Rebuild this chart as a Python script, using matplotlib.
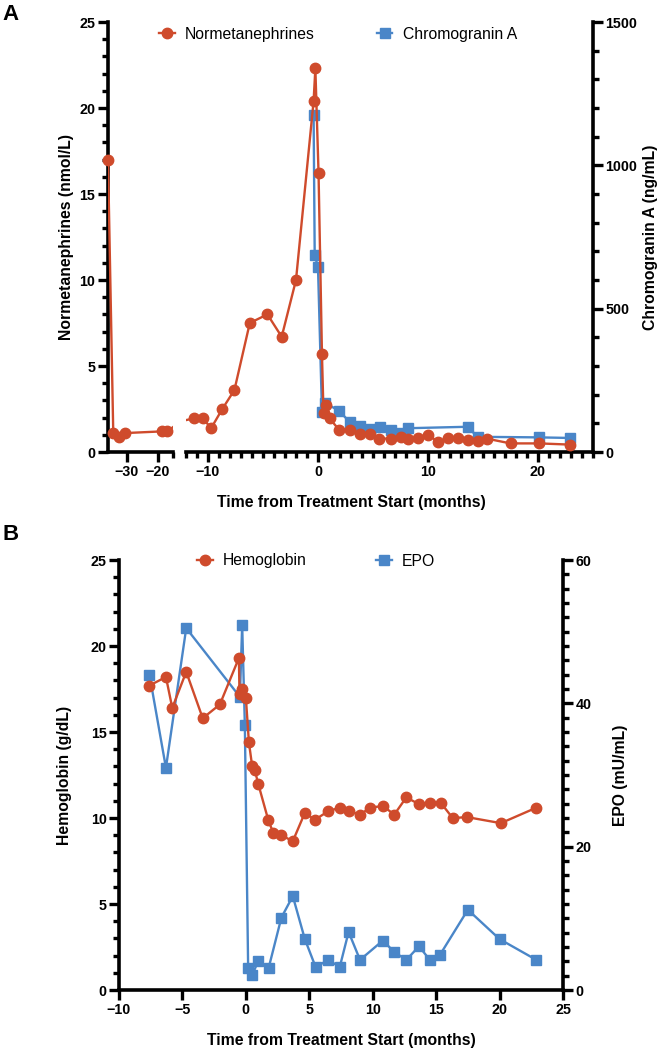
import numpy as np
import matplotlib.pyplot as plt
from matplotlib.ticker import MultipleLocator, FixedLocator

plt.rcParams['font.family'] = ['Liberation Sans', 'DejaVu Sans']
plt.rcParams['font.weight'] = 'bold'

RED = "#cf4b2c"
BLUE = "#4a86c8"

# panel A: normetanephrines (nmol/L) and chromogranin A (ng/mL)
nmn_months = [-36, -34.3, -32.4, -30.5, -18.4, -16.8,
              -11.3, -10.5, -9.7, -8.7, -7.6, -6.2, -4.6, -3.3, -2.0,
              -0.4, -0.24, 0.05, 0.36, 0.5, 0.75, 1.06, 1.9, 2.9, 3.8, 4.7,
              5.5, 6.6, 7.5, 8.2, 9.1, 10.0, 10.9, 11.8, 12.7, 13.6, 14.5,
              15.4, 17.5, 20.1, 22.9]
nmn_values = [17.0, 1.1, 0.9, 1.1, 1.2, 1.2,
              1.95, 1.95, 1.4, 2.5, 3.6, 7.5, 8.0, 6.7, 10.0,
              20.4, 22.3, 16.2, 5.7, 2.25, 2.75, 1.95, 1.3, 1.3, 1.05, 1.05,
              0.78, 0.78, 0.87, 0.76, 0.82, 1.0, 0.6, 0.8, 0.83, 0.7, 0.64,
              0.77, 0.5, 0.5, 0.43]

cga_months = [-0.4, -0.3, 0.0, 0.36, 0.66, 1.9, 2.9, 3.85, 4.7, 5.6, 6.6,
              7.4, 8.2, 13.6, 14.5, 20.1, 22.9]
cga_values = [1177, 688, 644, 141, 171, 144, 104, 90, 80, 88, 77,
              66, 83, 88, 53, 51, 49]

# panel B: hemoglobin (g/dL) and EPO (mU/mL)
hb_months = [-7.6, -6.3, -5.8, -4.7, -3.4, -2.05, -0.55, -0.5, -0.32, 0.0,
             0.24, 0.5, 0.7, 0.97, 1.76, 2.15, 2.8, 3.7, 4.65, 5.45, 6.5,
             7.4, 8.1, 9.0, 9.8, 10.8, 11.7, 12.65, 13.65, 14.5, 15.35,
             16.3, 17.45, 20.1, 22.9]
hb_values = [17.7, 18.2, 16.4, 18.5, 15.8, 16.6, 19.3, 17.2, 17.5, 17.0,
             14.4, 13.0, 12.8, 12.0, 9.9, 9.15, 9.0, 8.65, 10.3, 9.9, 10.4,
             10.6, 10.4, 10.2, 10.6, 10.7, 10.2, 11.2, 10.8, 10.9, 10.9,
             10.0, 10.05, 9.7, 10.6]

epo_months = [-7.6, -6.3, -4.7, -0.47, -0.29, -0.08, 0.18, 0.5, 0.97, 1.8,
              2.8, 3.7, 4.65, 5.5, 6.5, 7.4, 8.1, 9.0, 10.8, 11.7, 12.65,
              13.65, 14.5, 15.3, 17.5, 20.0, 22.9]
epo_values = [44.0, 31.0, 50.5, 40.9, 50.9, 37.0, 3.1, 2.1, 4.0, 3.1,
              10.1, 13.1, 7.1, 3.2, 4.2, 3.2, 8.1, 4.2, 6.9, 5.3, 4.2,
              6.1, 4.2, 4.9, 11.2, 7.1, 4.2]

W, H = 660, 1050
LABEL_SIZE = 11.3
fig = plt.figure(figsize=(W / 100, H / 100), dpi=100)


def box(l, t, r, b):
    return [l / W, 1 - b / H, (r - l) / W, (b - t) / H]


def style(ax):
    for sp in ax.spines.values():
        sp.set_linewidth(2.6)
    ax.tick_params(which='major', length=7, width=2.4, labelsize=10.3, pad=2)
    ax.tick_params(which='minor', length=4.5, width=2.4)


def series(ax, x, y, color, marker, ms, lo, hi, z=2):
    x = np.asarray(x, float)
    y = np.asarray(y, float)
    line, = ax.plot(x, y, color=color, lw=1.7, zorder=z)
    keep = (x >= lo) & (x <= hi)
    ax.plot(x[keep], y[keep], ls='none', marker=marker, ms=ms, color=color,
            clip_on=False, zorder=z + 0.5)
    return line


def legend(handles, labels, x0, y0, colsp):
    fig.legend(handles, labels, loc='center left',
               bbox_to_anchor=(x0 / W, 1 - y0 / H), ncol=2, frameon=False,
               prop={'weight': 'normal', 'size': LABEL_SIZE},
               handlelength=1.0, handletextpad=0.65, columnspacing=colsp,
               borderpad=0, borderaxespad=0)


def handle(color, marker, ms):
    return plt.Line2D([], [], color=color, marker=marker, ms=ms, lw=1.7)


# ---- panel A, left segment of broken axis
axL = fig.add_axes(box(108, 22, 173, 452))
style(axL)
axL.set_xlim(-36, -15)
axL.set_ylim(0, 25)
axL.spines[['top', 'right']].set_visible(False)
axL.xaxis.set_major_locator(FixedLocator([-30, -20]))
axL.xaxis.set_minor_locator(FixedLocator([-15]))
axL.yaxis.set_major_locator(MultipleLocator(5))
axL.yaxis.set_minor_locator(MultipleLocator(1))
series(axL, nmn_months, nmn_values, RED, 'o', 7.5, -36, -15, z=3)

# ---- panel A, right segment
axR = fig.add_axes(box(186, 22, 593, 452))
style(axR)
axR.set_xlim(-12, 25)
axR.set_ylim(0, 25)
axR.xaxis.set_major_locator(FixedLocator([-10, 0, 10, 20]))
axR.xaxis.set_minor_locator(MultipleLocator(1))

twA = axR.twinx()
style(twA)
twA.set_ylim(0, 1500)
twA.spines[['top', 'left', 'bottom']].set_visible(False)
twA.yaxis.set_major_locator(MultipleLocator(500))
twA.yaxis.set_minor_locator(MultipleLocator(100))
series(twA, cga_months, cga_values, BLUE, 's', 7, -12, 25)

axR.spines[['top', 'left', 'right']].set_visible(False)
axR.tick_params(axis='y', which='both', left=False, right=False,
                labelleft=False, labelright=False)
axR.set_zorder(twA.get_zorder() + 1)
axR.patch.set_visible(False)
series(axR, nmn_months, nmn_values, RED, 'o', 7.5, -12, 25, z=3)

legend([handle(RED, 'o', 7.5), handle(BLUE, 's', 7)],
       ["Normetanephrines", "Chromogranin A"], 159, 34, 3.95)

fig.text(66 / W, 1 - 237 / H, "Normetanephrines (nmol/L)", rotation=90,
         ha='center', va='center', fontsize=LABEL_SIZE)
fig.text(651 / W, 1 - 237 / H, "Chromogranin A (ng/mL)", rotation=90,
         ha='center', va='center', fontsize=LABEL_SIZE)
fig.text(351 / W, 1 - 503 / H, "Time from Treatment Start (months)",
         ha='center', va='center', fontsize=LABEL_SIZE)
fig.text(2 / W, 1 - 14 / H, "A", ha='left', va='center', fontsize=16)

# ---- panel B
axB = fig.add_axes(box(119, 560, 563, 990))
style(axB)
axB.set_xlim(-10, 25)
axB.set_ylim(0, 25)
axB.xaxis.set_major_locator(MultipleLocator(5))
axB.yaxis.set_major_locator(MultipleLocator(5))
axB.yaxis.set_minor_locator(MultipleLocator(1))

twB = axB.twinx()
style(twB)
twB.set_ylim(0, 60)
twB.spines[['top', 'left', 'bottom']].set_visible(False)
twB.yaxis.set_major_locator(MultipleLocator(20))
twB.yaxis.set_minor_locator(MultipleLocator(2))
series(twB, epo_months, epo_values, BLUE, 's', 7, -10, 25)

axB.spines[['top', 'right']].set_visible(False)
axB.set_zorder(twB.get_zorder() + 1)
axB.patch.set_visible(False)
series(axB, hb_months, hb_values, RED, 'o', 7.5, -10, 25, z=3)

legend([handle(RED, 'o', 7.5), handle(BLUE, 's', 7)],
       ["Hemoglobin", "EPO"], 197, 561, 4.4)

fig.text(65 / W, 1 - 775 / H, "Hemoglobin (g/dL)", rotation=90,
         ha='center', va='center', fontsize=LABEL_SIZE)
fig.text(621 / W, 1 - 775 / H, "EPO (mU/mL)", rotation=90,
         ha='center', va='center', fontsize=LABEL_SIZE)
fig.text(341 / W, 1 - 1040 / H, "Time from Treatment Start (months)",
         ha='center', va='center', fontsize=LABEL_SIZE)
fig.text(2 / W, 1 - 534 / H, "B", ha='left', va='center', fontsize=16)

fig.savefig("out.png", dpi=100)
